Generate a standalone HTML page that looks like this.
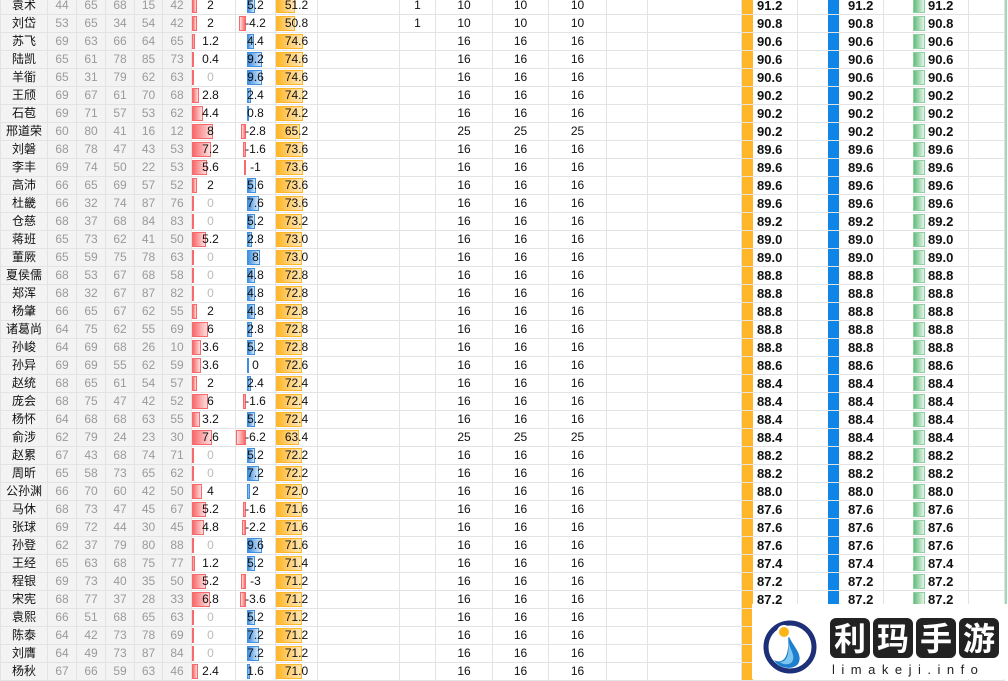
<!DOCTYPE html>
<html><head><meta charset="utf-8"><style>
html,body{margin:0;padding:0;width:1008px;height:679px;overflow:hidden;background:#fff}
table{position:absolute;left:0;top:-4px;border-collapse:collapse;table-layout:fixed;width:1005px;font-family:"Liberation Sans","Noto Sans CJK SC",sans-serif}
td{height:17px;line-height:17px;border:1px solid #e3e3e3;padding:0;font-size:12px;text-align:center;position:relative;white-space:nowrap;color:#111}
td.h{background:#f3f3f3;color:#111}
td.g{background:#f3f3f3;color:#9a9a9a}
td i{position:absolute;top:1px;bottom:1px;left:0;display:block}
td span{position:relative}
td.r{padding-right:6px}
td.r i{background:linear-gradient(to right,#f8696b,#fde0e0);border:1px solid #f8696b;box-sizing:border-box}
td.b i{left:11px;background:linear-gradient(to right,#3f8fe0,#d6e8fa);border:1px solid #3f8fe0;box-sizing:border-box}
td.b i.n{left:auto;right:29px;background:linear-gradient(to left,#f8696b,#fde0e0);border-color:#f8696b}
td.o i{background:linear-gradient(to right,#ffb628,#ffe7b8);border:1px solid #ffb628;box-sizing:border-box}
td.z{color:#bbb}
td.p,td.q,td.s{text-align:left;font-weight:bold;font-size:13px}
td.p{padding-left:15px}
td.p i{width:11px;background:#ffb628;top:0;bottom:0}
td.q{padding-left:50px}
td.q i{left:30px;width:11px;background:#0f85e8;top:0;bottom:0}
td.s{padding-left:44px}
td.s i{left:29px;width:12px;background:linear-gradient(to right,#63be7b,#e3f3e8);border:1px solid #8fd0a3;box-sizing:border-box}
.logo{position:absolute;left:752px;top:604px;width:256px;height:75px;background:#fff}
</style></head><body>
<table>
<colgroup><col style="width:47px"><col style="width:29px"><col style="width:29px"><col style="width:29px"><col style="width:28px"><col style="width:29px"><col style="width:44px"><col style="width:40px"><col style="width:42px"><col style="width:82px"><col style="width:36px"><col style="width:57px"><col style="width:56px"><col style="width:58px"><col style="width:41px"><col style="width:94px"><col style="width:56px"><col style="width:86px"><col style="width:85px"><col style="width:36px"></colgroup>
<tr><td class=h>袁术</td><td class=g>44</td><td class=g>65</td><td class=g>68</td><td class=g>15</td><td class=g>42</td><td class=r><i style="width:5px"></i><span>2</span></td><td class=b><i style="width:8px"></i><span>5.2</span></td><td class=o><i style="width:19px"></i><span>51.2</span></td><td></td><td>1</td><td>10</td><td>10</td><td>10</td><td></td><td></td><td class=p><i></i>91.2</td><td class=q><i></i>91.2</td><td class=s><i></i>91.2</td><td></td></tr>
<tr><td class=h>刘岱</td><td class=g>53</td><td class=g>65</td><td class=g>34</td><td class=g>54</td><td class=g>42</td><td class=r><i style="width:5px"></i><span>2</span></td><td class=b><i class=n style="width:7px"></i><span>-4.2</span></td><td class=o><i style="width:19px"></i><span>50.8</span></td><td></td><td>1</td><td>10</td><td>10</td><td>10</td><td></td><td></td><td class=p><i></i>90.8</td><td class=q><i></i>90.8</td><td class=s><i></i>90.8</td><td></td></tr>
<tr><td class=h>苏飞</td><td class=g>69</td><td class=g>63</td><td class=g>66</td><td class=g>64</td><td class=g>65</td><td class=r><i style="width:3px"></i><span>1.2</span></td><td class=b><i style="width:7px"></i><span>4.4</span></td><td class=o><i style="width:27px"></i><span>74.6</span></td><td></td><td></td><td>16</td><td>16</td><td>16</td><td></td><td></td><td class=p><i></i>90.6</td><td class=q><i></i>90.6</td><td class=s><i></i>90.6</td><td></td></tr>
<tr><td class=h>陆凯</td><td class=g>65</td><td class=g>61</td><td class=g>78</td><td class=g>85</td><td class=g>73</td><td class=r><i style="width:2px"></i><span>0.4</span></td><td class=b><i style="width:15px"></i><span>9.2</span></td><td class=o><i style="width:27px"></i><span>74.6</span></td><td></td><td></td><td>16</td><td>16</td><td>16</td><td></td><td></td><td class=p><i></i>90.6</td><td class=q><i></i>90.6</td><td class=s><i></i>90.6</td><td></td></tr>
<tr><td class=h>羊衜</td><td class=g>65</td><td class=g>31</td><td class=g>79</td><td class=g>62</td><td class=g>63</td><td class="r z"><i style="width:2px"></i><span>0</span></td><td class=b><i style="width:15px"></i><span>9.6</span></td><td class=o><i style="width:27px"></i><span>74.6</span></td><td></td><td></td><td>16</td><td>16</td><td>16</td><td></td><td></td><td class=p><i></i>90.6</td><td class=q><i></i>90.6</td><td class=s><i></i>90.6</td><td></td></tr>
<tr><td class=h>王颀</td><td class=g>69</td><td class=g>67</td><td class=g>61</td><td class=g>70</td><td class=g>68</td><td class=r><i style="width:7px"></i><span>2.8</span></td><td class=b><i style="width:4px"></i><span>2.4</span></td><td class=o><i style="width:27px"></i><span>74.2</span></td><td></td><td></td><td>16</td><td>16</td><td>16</td><td></td><td></td><td class=p><i></i>90.2</td><td class=q><i></i>90.2</td><td class=s><i></i>90.2</td><td></td></tr>
<tr><td class=h>石苞</td><td class=g>69</td><td class=g>71</td><td class=g>57</td><td class=g>53</td><td class=g>62</td><td class=r><i style="width:11px"></i><span>4.4</span></td><td class=b><i style="width:2px"></i><span>0.8</span></td><td class=o><i style="width:27px"></i><span>74.2</span></td><td></td><td></td><td>16</td><td>16</td><td>16</td><td></td><td></td><td class=p><i></i>90.2</td><td class=q><i></i>90.2</td><td class=s><i></i>90.2</td><td></td></tr>
<tr><td class=h>邢道荣</td><td class=g>60</td><td class=g>80</td><td class=g>41</td><td class=g>16</td><td class=g>12</td><td class=r><i style="width:21px"></i><span>8</span></td><td class=b><i class=n style="width:5px"></i><span>-2.8</span></td><td class=o><i style="width:24px"></i><span>65.2</span></td><td></td><td></td><td>25</td><td>25</td><td>25</td><td></td><td></td><td class=p><i></i>90.2</td><td class=q><i></i>90.2</td><td class=s><i></i>90.2</td><td></td></tr>
<tr><td class=h>刘磐</td><td class=g>68</td><td class=g>78</td><td class=g>47</td><td class=g>43</td><td class=g>53</td><td class=r><i style="width:19px"></i><span>7.2</span></td><td class=b><i class=n style="width:3px"></i><span>-1.6</span></td><td class=o><i style="width:27px"></i><span>73.6</span></td><td></td><td></td><td>16</td><td>16</td><td>16</td><td></td><td></td><td class=p><i></i>89.6</td><td class=q><i></i>89.6</td><td class=s><i></i>89.6</td><td></td></tr>
<tr><td class=h>李丰</td><td class=g>69</td><td class=g>74</td><td class=g>50</td><td class=g>22</td><td class=g>53</td><td class=r><i style="width:15px"></i><span>5.6</span></td><td class=b><i class=n style="width:2px"></i><span>-1</span></td><td class=o><i style="width:27px"></i><span>73.6</span></td><td></td><td></td><td>16</td><td>16</td><td>16</td><td></td><td></td><td class=p><i></i>89.6</td><td class=q><i></i>89.6</td><td class=s><i></i>89.6</td><td></td></tr>
<tr><td class=h>高沛</td><td class=g>66</td><td class=g>65</td><td class=g>69</td><td class=g>57</td><td class=g>52</td><td class=r><i style="width:5px"></i><span>2</span></td><td class=b><i style="width:9px"></i><span>5.6</span></td><td class=o><i style="width:27px"></i><span>73.6</span></td><td></td><td></td><td>16</td><td>16</td><td>16</td><td></td><td></td><td class=p><i></i>89.6</td><td class=q><i></i>89.6</td><td class=s><i></i>89.6</td><td></td></tr>
<tr><td class=h>杜畿</td><td class=g>66</td><td class=g>32</td><td class=g>74</td><td class=g>87</td><td class=g>76</td><td class="r z"><i style="width:2px"></i><span>0</span></td><td class=b><i style="width:12px"></i><span>7.6</span></td><td class=o><i style="width:27px"></i><span>73.6</span></td><td></td><td></td><td>16</td><td>16</td><td>16</td><td></td><td></td><td class=p><i></i>89.6</td><td class=q><i></i>89.6</td><td class=s><i></i>89.6</td><td></td></tr>
<tr><td class=h>仓慈</td><td class=g>68</td><td class=g>37</td><td class=g>68</td><td class=g>84</td><td class=g>83</td><td class="r z"><i style="width:2px"></i><span>0</span></td><td class=b><i style="width:8px"></i><span>5.2</span></td><td class=o><i style="width:26px"></i><span>73.2</span></td><td></td><td></td><td>16</td><td>16</td><td>16</td><td></td><td></td><td class=p><i></i>89.2</td><td class=q><i></i>89.2</td><td class=s><i></i>89.2</td><td></td></tr>
<tr><td class=h>蒋班</td><td class=g>65</td><td class=g>73</td><td class=g>62</td><td class=g>41</td><td class=g>50</td><td class=r><i style="width:14px"></i><span>5.2</span></td><td class=b><i style="width:5px"></i><span>2.8</span></td><td class=o><i style="width:26px"></i><span>73.0</span></td><td></td><td></td><td>16</td><td>16</td><td>16</td><td></td><td></td><td class=p><i></i>89.0</td><td class=q><i></i>89.0</td><td class=s><i></i>89.0</td><td></td></tr>
<tr><td class=h>董厥</td><td class=g>65</td><td class=g>59</td><td class=g>75</td><td class=g>78</td><td class=g>63</td><td class="r z"><i style="width:2px"></i><span>0</span></td><td class=b><i style="width:13px"></i><span>8</span></td><td class=o><i style="width:26px"></i><span>73.0</span></td><td></td><td></td><td>16</td><td>16</td><td>16</td><td></td><td></td><td class=p><i></i>89.0</td><td class=q><i></i>89.0</td><td class=s><i></i>89.0</td><td></td></tr>
<tr><td class=h>夏侯儒</td><td class=g>68</td><td class=g>53</td><td class=g>67</td><td class=g>68</td><td class=g>58</td><td class="r z"><i style="width:2px"></i><span>0</span></td><td class=b><i style="width:8px"></i><span>4.8</span></td><td class=o><i style="width:26px"></i><span>72.8</span></td><td></td><td></td><td>16</td><td>16</td><td>16</td><td></td><td></td><td class=p><i></i>88.8</td><td class=q><i></i>88.8</td><td class=s><i></i>88.8</td><td></td></tr>
<tr><td class=h>郑浑</td><td class=g>68</td><td class=g>32</td><td class=g>67</td><td class=g>87</td><td class=g>82</td><td class="r z"><i style="width:2px"></i><span>0</span></td><td class=b><i style="width:8px"></i><span>4.8</span></td><td class=o><i style="width:26px"></i><span>72.8</span></td><td></td><td></td><td>16</td><td>16</td><td>16</td><td></td><td></td><td class=p><i></i>88.8</td><td class=q><i></i>88.8</td><td class=s><i></i>88.8</td><td></td></tr>
<tr><td class=h>杨肇</td><td class=g>66</td><td class=g>65</td><td class=g>67</td><td class=g>62</td><td class=g>55</td><td class=r><i style="width:5px"></i><span>2</span></td><td class=b><i style="width:8px"></i><span>4.8</span></td><td class=o><i style="width:26px"></i><span>72.8</span></td><td></td><td></td><td>16</td><td>16</td><td>16</td><td></td><td></td><td class=p><i></i>88.8</td><td class=q><i></i>88.8</td><td class=s><i></i>88.8</td><td></td></tr>
<tr><td class=h>诸葛尚</td><td class=g>64</td><td class=g>75</td><td class=g>62</td><td class=g>55</td><td class=g>69</td><td class=r><i style="width:16px"></i><span>6</span></td><td class=b><i style="width:5px"></i><span>2.8</span></td><td class=o><i style="width:26px"></i><span>72.8</span></td><td></td><td></td><td>16</td><td>16</td><td>16</td><td></td><td></td><td class=p><i></i>88.8</td><td class=q><i></i>88.8</td><td class=s><i></i>88.8</td><td></td></tr>
<tr><td class=h>孙峻</td><td class=g>64</td><td class=g>69</td><td class=g>68</td><td class=g>26</td><td class=g>10</td><td class=r><i style="width:9px"></i><span>3.6</span></td><td class=b><i style="width:8px"></i><span>5.2</span></td><td class=o><i style="width:26px"></i><span>72.8</span></td><td></td><td></td><td>16</td><td>16</td><td>16</td><td></td><td></td><td class=p><i></i>88.8</td><td class=q><i></i>88.8</td><td class=s><i></i>88.8</td><td></td></tr>
<tr><td class=h>孙异</td><td class=g>69</td><td class=g>69</td><td class=g>55</td><td class=g>62</td><td class=g>59</td><td class=r><i style="width:9px"></i><span>3.6</span></td><td class=b><i style="width:1px"></i><span>0</span></td><td class=o><i style="width:26px"></i><span>72.6</span></td><td></td><td></td><td>16</td><td>16</td><td>16</td><td></td><td></td><td class=p><i></i>88.6</td><td class=q><i></i>88.6</td><td class=s><i></i>88.6</td><td></td></tr>
<tr><td class=h>赵统</td><td class=g>68</td><td class=g>65</td><td class=g>61</td><td class=g>54</td><td class=g>57</td><td class=r><i style="width:5px"></i><span>2</span></td><td class=b><i style="width:4px"></i><span>2.4</span></td><td class=o><i style="width:26px"></i><span>72.4</span></td><td></td><td></td><td>16</td><td>16</td><td>16</td><td></td><td></td><td class=p><i></i>88.4</td><td class=q><i></i>88.4</td><td class=s><i></i>88.4</td><td></td></tr>
<tr><td class=h>庞会</td><td class=g>68</td><td class=g>75</td><td class=g>47</td><td class=g>42</td><td class=g>52</td><td class=r><i style="width:16px"></i><span>6</span></td><td class=b><i class=n style="width:3px"></i><span>-1.6</span></td><td class=o><i style="width:26px"></i><span>72.4</span></td><td></td><td></td><td>16</td><td>16</td><td>16</td><td></td><td></td><td class=p><i></i>88.4</td><td class=q><i></i>88.4</td><td class=s><i></i>88.4</td><td></td></tr>
<tr><td class=h>杨怀</td><td class=g>64</td><td class=g>68</td><td class=g>68</td><td class=g>63</td><td class=g>55</td><td class=r><i style="width:8px"></i><span>3.2</span></td><td class=b><i style="width:8px"></i><span>5.2</span></td><td class=o><i style="width:26px"></i><span>72.4</span></td><td></td><td></td><td>16</td><td>16</td><td>16</td><td></td><td></td><td class=p><i></i>88.4</td><td class=q><i></i>88.4</td><td class=s><i></i>88.4</td><td></td></tr>
<tr><td class=h>俞涉</td><td class=g>62</td><td class=g>79</td><td class=g>24</td><td class=g>23</td><td class=g>30</td><td class=r><i style="width:20px"></i><span>7.6</span></td><td class=b><i class=n style="width:10px"></i><span>-6.2</span></td><td class=o><i style="width:23px"></i><span>63.4</span></td><td></td><td></td><td>25</td><td>25</td><td>25</td><td></td><td></td><td class=p><i></i>88.4</td><td class=q><i></i>88.4</td><td class=s><i></i>88.4</td><td></td></tr>
<tr><td class=h>赵累</td><td class=g>67</td><td class=g>43</td><td class=g>68</td><td class=g>74</td><td class=g>71</td><td class="r z"><i style="width:2px"></i><span>0</span></td><td class=b><i style="width:8px"></i><span>5.2</span></td><td class=o><i style="width:26px"></i><span>72.2</span></td><td></td><td></td><td>16</td><td>16</td><td>16</td><td></td><td></td><td class=p><i></i>88.2</td><td class=q><i></i>88.2</td><td class=s><i></i>88.2</td><td></td></tr>
<tr><td class=h>周昕</td><td class=g>65</td><td class=g>58</td><td class=g>73</td><td class=g>65</td><td class=g>62</td><td class="r z"><i style="width:2px"></i><span>0</span></td><td class=b><i style="width:12px"></i><span>7.2</span></td><td class=o><i style="width:26px"></i><span>72.2</span></td><td></td><td></td><td>16</td><td>16</td><td>16</td><td></td><td></td><td class=p><i></i>88.2</td><td class=q><i></i>88.2</td><td class=s><i></i>88.2</td><td></td></tr>
<tr><td class=h>公孙渊</td><td class=g>66</td><td class=g>70</td><td class=g>60</td><td class=g>42</td><td class=g>50</td><td class=r><i style="width:10px"></i><span>4</span></td><td class=b><i style="width:3px"></i><span>2</span></td><td class=o><i style="width:26px"></i><span>72.0</span></td><td></td><td></td><td>16</td><td>16</td><td>16</td><td></td><td></td><td class=p><i></i>88.0</td><td class=q><i></i>88.0</td><td class=s><i></i>88.0</td><td></td></tr>
<tr><td class=h>马休</td><td class=g>68</td><td class=g>73</td><td class=g>47</td><td class=g>45</td><td class=g>67</td><td class=r><i style="width:14px"></i><span>5.2</span></td><td class=b><i class=n style="width:3px"></i><span>-1.6</span></td><td class=o><i style="width:26px"></i><span>71.6</span></td><td></td><td></td><td>16</td><td>16</td><td>16</td><td></td><td></td><td class=p><i></i>87.6</td><td class=q><i></i>87.6</td><td class=s><i></i>87.6</td><td></td></tr>
<tr><td class=h>张球</td><td class=g>69</td><td class=g>72</td><td class=g>44</td><td class=g>30</td><td class=g>45</td><td class=r><i style="width:12px"></i><span>4.8</span></td><td class=b><i class=n style="width:4px"></i><span>-2.2</span></td><td class=o><i style="width:26px"></i><span>71.6</span></td><td></td><td></td><td>16</td><td>16</td><td>16</td><td></td><td></td><td class=p><i></i>87.6</td><td class=q><i></i>87.6</td><td class=s><i></i>87.6</td><td></td></tr>
<tr><td class=h>孙登</td><td class=g>62</td><td class=g>37</td><td class=g>79</td><td class=g>80</td><td class=g>88</td><td class="r z"><i style="width:2px"></i><span>0</span></td><td class=b><i style="width:15px"></i><span>9.6</span></td><td class=o><i style="width:26px"></i><span>71.6</span></td><td></td><td></td><td>16</td><td>16</td><td>16</td><td></td><td></td><td class=p><i></i>87.6</td><td class=q><i></i>87.6</td><td class=s><i></i>87.6</td><td></td></tr>
<tr><td class=h>王经</td><td class=g>65</td><td class=g>63</td><td class=g>68</td><td class=g>75</td><td class=g>77</td><td class=r><i style="width:3px"></i><span>1.2</span></td><td class=b><i style="width:8px"></i><span>5.2</span></td><td class=o><i style="width:26px"></i><span>71.4</span></td><td></td><td></td><td>16</td><td>16</td><td>16</td><td></td><td></td><td class=p><i></i>87.4</td><td class=q><i></i>87.4</td><td class=s><i></i>87.4</td><td></td></tr>
<tr><td class=h>程银</td><td class=g>69</td><td class=g>73</td><td class=g>40</td><td class=g>35</td><td class=g>50</td><td class=r><i style="width:14px"></i><span>5.2</span></td><td class=b><i class=n style="width:5px"></i><span>-3</span></td><td class=o><i style="width:26px"></i><span>71.2</span></td><td></td><td></td><td>16</td><td>16</td><td>16</td><td></td><td></td><td class=p><i></i>87.2</td><td class=q><i></i>87.2</td><td class=s><i></i>87.2</td><td></td></tr>
<tr><td class=h>宋宪</td><td class=g>68</td><td class=g>77</td><td class=g>37</td><td class=g>28</td><td class=g>33</td><td class=r><i style="width:18px"></i><span>6.8</span></td><td class=b><i class=n style="width:6px"></i><span>-3.6</span></td><td class=o><i style="width:26px"></i><span>71.2</span></td><td></td><td></td><td>16</td><td>16</td><td>16</td><td></td><td></td><td class=p><i></i>87.2</td><td class=q><i></i>87.2</td><td class=s><i></i>87.2</td><td></td></tr>
<tr><td class=h>袁熙</td><td class=g>66</td><td class=g>51</td><td class=g>68</td><td class=g>65</td><td class=g>63</td><td class="r z"><i style="width:2px"></i><span>0</span></td><td class=b><i style="width:8px"></i><span>5.2</span></td><td class=o><i style="width:26px"></i><span>71.2</span></td><td></td><td></td><td>16</td><td>16</td><td>16</td><td></td><td></td><td class=p><i></i></td><td></td><td></td><td></td></tr>
<tr><td class=h>陈泰</td><td class=g>64</td><td class=g>42</td><td class=g>73</td><td class=g>78</td><td class=g>69</td><td class="r z"><i style="width:2px"></i><span>0</span></td><td class=b><i style="width:12px"></i><span>7.2</span></td><td class=o><i style="width:26px"></i><span>71.2</span></td><td></td><td></td><td>16</td><td>16</td><td>16</td><td></td><td></td><td class=p><i></i></td><td></td><td></td><td></td></tr>
<tr><td class=h>刘膺</td><td class=g>64</td><td class=g>49</td><td class=g>73</td><td class=g>87</td><td class=g>84</td><td class="r z"><i style="width:2px"></i><span>0</span></td><td class=b><i style="width:12px"></i><span>7.2</span></td><td class=o><i style="width:26px"></i><span>71.2</span></td><td></td><td></td><td>16</td><td>16</td><td>16</td><td></td><td></td><td class=p><i></i></td><td></td><td></td><td></td></tr>
<tr><td class=h>杨秋</td><td class=g>67</td><td class=g>66</td><td class=g>59</td><td class=g>63</td><td class=g>46</td><td class=r><i style="width:6px"></i><span>2.4</span></td><td class=b><i style="width:3px"></i><span>1.6</span></td><td class=o><i style="width:26px"></i><span>71.0</span></td><td></td><td></td><td>16</td><td>16</td><td>16</td><td></td><td></td><td class=p><i></i></td><td></td><td></td><td></td></tr>
</table>
<div style="position:absolute;left:1005px;top:0;width:2px;height:605px;background:#9ed9b8"></div>
<div class="logo">
<svg width="256" height="75" viewBox="0 0 256 75" style="position:absolute;left:0;top:0">
<circle cx="38" cy="43" r="24" fill="none" stroke="#1c2f78" stroke-width="5"/>
<circle cx="38" cy="43" r="21" fill="#fff"/>
<path d="M36 30 C40 42 52 50 46 60 C40 67 26 64 22 56 C30 60 38 56 36 30 Z" fill="#1e7fd0"/>
<path d="M36 36 C38 46 44 52 40 58 C36 62 30 60 28 58 C34 58 38 52 36 36 Z" fill="#7fc6ee"/>
<circle cx="32" cy="28" r="6" fill="#fbb51a" stroke="#fff" stroke-width="2"/>
<rect x="78" y="14" width="40" height="40" rx="6" fill="#222"/>
<rect x="121" y="14" width="40" height="40" rx="6" fill="#222"/>
<rect x="164" y="14" width="40" height="40" rx="6" fill="#222"/>
<rect x="207" y="14" width="40" height="40" rx="6" fill="#222"/>
<text x="98" y="46" font-size="32" fill="#fff" text-anchor="middle" font-family="Noto Sans CJK SC,sans-serif" font-weight="bold">利</text>
<text x="141" y="46" font-size="32" fill="#fff" text-anchor="middle" font-family="Noto Sans CJK SC,sans-serif" font-weight="bold">玛</text>
<text x="184" y="46" font-size="32" fill="#fff" text-anchor="middle" font-family="Noto Sans CJK SC,sans-serif" font-weight="bold">手</text>
<text x="227" y="46" font-size="32" fill="#fff" text-anchor="middle" font-family="Noto Sans CJK SC,sans-serif" font-weight="bold">游</text>
<text x="80" y="70" font-size="13" fill="#222" letter-spacing="6.5" font-family="Liberation Sans,sans-serif">limakeji.info</text>
</svg>
</div>
</body></html>
